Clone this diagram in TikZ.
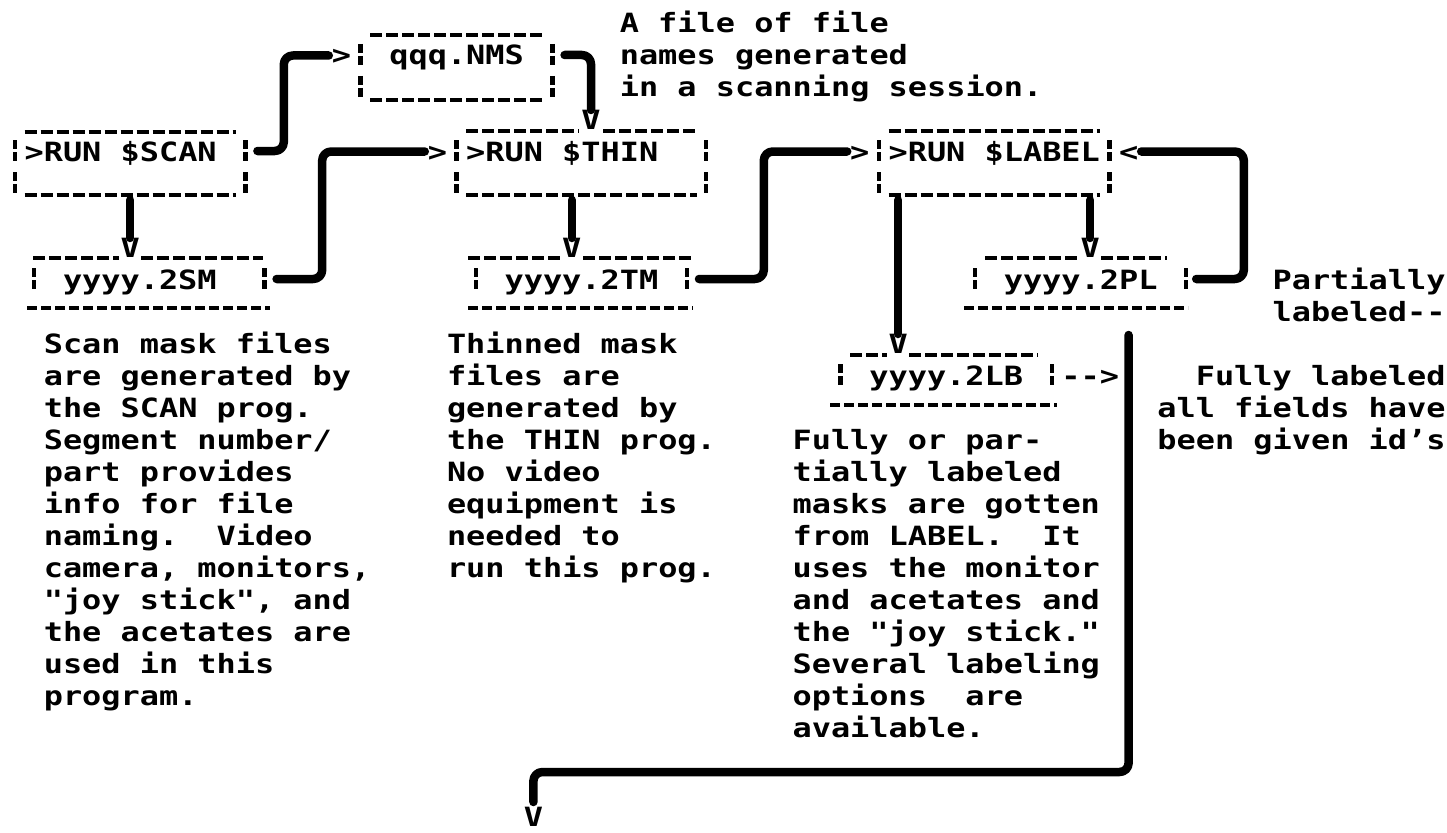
\documentclass[tikz,border=0pt]{standalone}
\usepackage{fontspec}
\setmonofont{DejaVu Sans Mono}[FakeStretch=1.204]
\usetikzlibrary{calc}
\begin{document}
\begin{tikzpicture}[x=1pt,y=-1pt,
  txt/.style={inner sep=0pt, outer sep=0pt, anchor=base west, font=\ttfamily\bfseries\fontsize{26.5}{32}\selectfont},
  glyph/.style={txt, text height=19pt, text depth=0pt},
  frame/.style={inner sep=0pt, outer sep=0pt, anchor=north west, draw=none},
  uline/.style={line width=3.8pt, dash pattern=on 12pt off 4pt},
  hline/.style={line width=3.8pt, dash pattern=on 10pt off 4pt},
  bar/.style={line width=4.5pt, dash pattern=on 9pt off 3pt on 9pt off 11pt},
  conn/.style={line width=8.5pt, rounded corners=9pt, line cap=round, line join=round}]

\fill[white] (0,0) rectangle (1447,832);
\useasboundingbox (0,0) rectangle (1447,832);

% ---------- box frames (named nodes) ----------
\node[frame, minimum width=230.4pt, minimum height=63pt] (scan)  at (15,132) {};
\node[frame, minimum width=192pt,   minimum height=65pt] (qqq)   at (360.6,35) {};
\node[frame, minimum width=249.6pt, minimum height=64pt] (thin)  at (456.6,131) {};
\node[frame, minimum width=230.4pt, minimum height=64pt] (label) at (879,131) {};
\node[frame, minimum width=230.4pt, minimum height=50pt] (sm)    at (34.2,258) {};
\node[frame, minimum width=211.2pt, minimum height=50pt] (tm)    at (475.8,258) {};
\node[frame, minimum width=211.2pt, minimum height=50pt] (pl)    at (975,258) {};
\node[frame, minimum width=211.2pt, minimum height=50pt] (lb)    at (840.6,355) {};

% ---------- dashed borders ----------
% SCAN
\draw[uline] (24.6,132) -- (235.8,132);
\draw[uline] (24.6,195) -- (235.8,195);
\draw[bar] (15,140) -- (15,195);
\draw[bar] (245.4,140) -- (245.4,195);
% qqq.NMS
\draw[uline] (370.2,35) -- (543,35);
\draw[uline] (370.2,100) -- (543,100);
\draw[bar] (360.6,44) -- (360.6,99);
\draw[bar] (552.6,44) -- (552.6,99);
% THIN
\draw[uline] (466.2,131) -- (579,131);
\draw[uline] (603,131) -- (696.6,131);
\draw[uline] (466.2,195) -- (696.6,195);
\draw[bar] (456.6,140) -- (456.6,195);
\draw[bar] (706.2,140) -- (706.2,195);
% LABEL
\draw[uline] (888.6,131) -- (1099.8,131);
\draw[uline] (888.6,195) -- (1099.8,195);
\draw[bar] (879,140) -- (879,195);
\draw[bar] (1109.4,140) -- (1109.4,195);
% 2SM
\draw[uline] (33,258) -- (119,258);
\draw[uline] (141,258) -- (263,258);
\draw[hline] (27,308) -- (270,308);
\draw[bar] (34.2,268) -- (34.2,290);
\draw[bar] (264.6,268) -- (264.6,290);
% 2TM
\draw[uline] (468,258) -- (560,258);
\draw[uline] (583,258) -- (693,258);
\draw[hline] (468,308) -- (693,308);
\draw[bar] (475.8,268) -- (475.8,290);
\draw[bar] (687,268) -- (687,290);
% 2PL
\draw[uline] (985,258) -- (1079,258);
\draw[uline] (1101,258) -- (1167,258);
\draw[hline] (964,308) -- (1188,308);
\draw[bar] (975,268) -- (975,290);
\draw[bar] (1186.2,268) -- (1186.2,290);
% 2LB
\draw[uline] (850,355) -- (887,355);
\draw[uline] (909,355) -- (1038,355);
\draw[hline] (830,405) -- (1057,405);
\draw[bar] (840.6,364) -- (840.6,386);
\draw[bar] (1051.8,364) -- (1051.8,386);

% ---------- box texts ----------
\node[txt] (scant)  at (24.6,161)  {>RUN \$SCAN};
\node[txt] (qqqt)   at (389.4,65)  {qqq.NMS};
\node[txt] (thint)  at (466.2,161) {>RUN \$THIN};
\node[txt] (labelt) at (888.6,161) {>RUN \$LABEL};
\node[txt] (smt)    at (63,289)    {yyyy.2SM};
\node[txt] (tmt)    at (504.6,289) {yyyy.2TM};
\node[txt] (plt)    at (1003.8,289) {yyyy.2PL};
\node[txt] (lbt)    at (869.4,385) {yyyy.2LB};
\node[txt] (lbarrow) at (1061.4,385) {-{}->};

% ---------- typed arrow heads ----------
\node[glyph] (gtq)  at (331.8,65)  {>};
\node[glyph] (vq)   at (581.4,129) {V};
\node[glyph] (vs)   at (120.6,257) {V};
\node[glyph] (gtt)  at (427.8,161) {>};
\node[glyph] (vt)   at (562.2,257) {V};
\node[glyph] (gtl)  at (850.2,161) {>};
\node[glyph] (ltl)  at (1119,161)  {<};
\node[glyph] (vlb)  at (888.6,353) {V};
\node[glyph] (vpl)  at (1080.6,257) {V};
\node[glyph] (vend) at (523.8,826) {V};

% ---------- descriptions ----------
\foreach \t [count=\i from 0] in {A file of file, names generated, in a scanning session.}
  \node[txt] (qd\i) at (619.8,{33+32*\i}) {\t};
\foreach \t [count=\i from 0] in {Scan mask files, are generated by, the SCAN prog., {Segment number/}, part provides, info for file, {naming.\ \ Video}, {camera, monitors,}, {"joy stick", and}, the acetates are, used in this, program.}
  \node[txt] (sd\i) at (43.8,{353+32*\i}) {\t};
\foreach \t [count=\i from 0] in {Thinned mask, files are, generated by, the THIN prog., No video, equipment is, needed to, run this prog.}
  \node[txt] (td\i) at (447,{353+32*\i}) {\t};
\foreach \t [count=\i from 0] in {Fully or par-, tially labeled, masks are gotten, {from LABEL.\ \ It}, uses the monitor, and acetates and, {the "joy stick."}, Several labeling, {options\ \ are}, available.}
  \node[txt] (ld\i) at (792.6,{449+32*\i}) {\t};
\node[txt] (pd0) at (1272.6,289) {Partially};
\node[txt] (pd1) at (1272.6,321) {labeled-{}-};
\node[txt] (fd0) at (1195.8,385) {Fully labeled};
\node[txt] (fd1) at (1157.4,417) {all fields have};
\node[txt] (fd2) at (1157.4,449) {been given id’s};

% ---------- connectors ----------
\draw[conn, shorten >=3pt] ([xshift=12pt,yshift=-19pt]scan.north east) -| ([xshift=-48pt]gtq.west) -- (gtq.west);
\draw[conn] ([xshift=12pt,yshift=-20pt]qqq.north east) -| (vq.north);
\draw[conn, shorten <=5pt] (scan.south -| vs.north) -- (vs.north);
\draw[conn, shorten >=3pt] ([xshift=12pt,yshift=-21pt]sm.north east) -| ([xshift=-105.6pt]gtt.west) -- (gtt.west);
\draw[conn, shorten <=5pt] (thin.south -| vt.north) -- (vt.north);
\draw[conn, shorten >=3pt] ([xshift=12pt,yshift=-21pt]tm.north east) -| ([xshift=-86.4pt]gtl.west) -- (gtl.west);
\draw[conn, shorten <=5pt] (label.south -| vlb.north) -- (vlb.north);
\draw[conn, shorten <=5pt] (label.south -| vpl.north) -- (vpl.north);
\draw[conn, shorten >=3pt] ([xshift=10pt,yshift=-21pt]pl.north east) -| ([xshift=105.6pt]ltl.east) -- (ltl.east);
\coordinate (bigtop) at (1128.6,335);
\coordinate (bigturn) at (1128.6,772);
\draw[conn, shorten >=5pt] (bigtop) -- (bigturn) -| (vend.north);
\end{tikzpicture}
\end{document}
